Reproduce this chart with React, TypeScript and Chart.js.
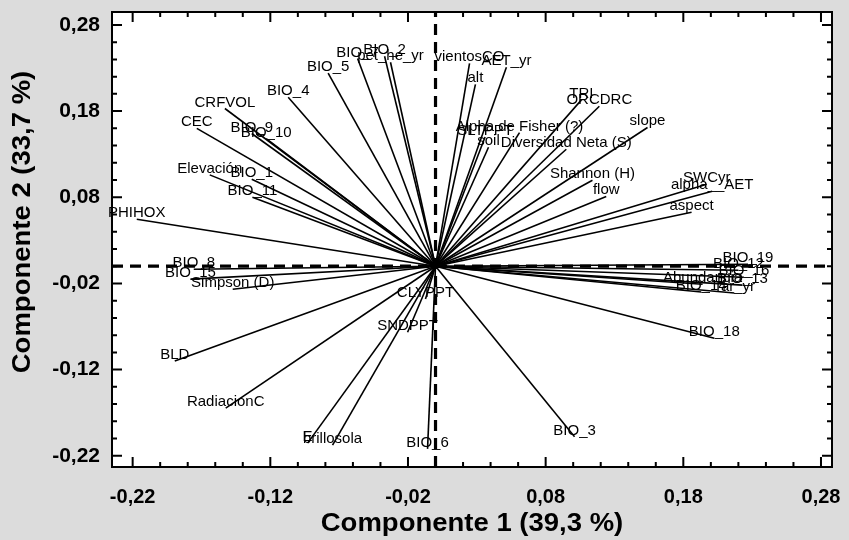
import React, { useEffect, useRef } from "react";
import { Chart, registerables } from "chart.js";

Chart.register(...registerables);

const vectorNames = [
  "PHIHOX", "Elevación", "BIO_1", "BIO_11", "CEC", "CRFVOL", "BIO_9", "BIO_10",
  "BIO_4", "BIO_5", "BIO_7", "BIO_2", "pet_he_yr", "vientosCO", "AET_yr", "alt",
  "TRI", "ORCDRC", "slope", "Alpha de Fisher (?)", "SLTPPT", "soil",
  "Diversidad Neta (S)", "Shannon (H)", "flow", "SWCyr", "alpha__AET", "aspect",
  "BIO_19", "BIO_12", "BIO_16", "BIO_13", "Abundancia", "BIO_14", "Tar_yr",
  "BIO_18", "BIO_3", "BIO_6", "brillosola", "E", "RadiacionC", "BLD", "SNDPPT",
  "CLYPPT", "BIO_8", "BIO_15", "Simpson (D)",
];
const vectorX = [
  -0.217, -0.164, -0.1335, -0.133, -0.1734, -0.153, -0.1335, -0.123,
  -0.107, -0.078, -0.0566, -0.037, -0.0327, 0.0247, 0.0515, 0.029,
  0.106, 0.119, 0.154, 0.061, 0.036, 0.0385,
  0.095, 0.114, 0.124, 0.197, 0.201, 0.186,
  0.227, 0.22, 0.224, 0.223, 0.194, 0.193, 0.217,
  0.2025, 0.101, -0.0058, -0.0748, -0.0929, -0.1524, -0.1894, -0.0203,
  -0.0073, -0.1756, -0.178, -0.1473,
];
const vectorY = [
  0.0545, 0.106, 0.101, 0.08, 0.16, 0.183, 0.154, 0.148,
  0.196, 0.224, 0.241, 0.2436, 0.2367, 0.2355, 0.231, 0.211,
  0.193, 0.1856, 0.161, 0.155, 0.15, 0.138,
  0.1357, 0.0998, 0.081, 0.095, 0.087, 0.0626,
  0.0023, -0.0046, -0.0128, -0.022, -0.021, -0.03, -0.031,
  -0.0835, -0.198, -0.212, -0.2077, -0.2053, -0.1647, -0.11, -0.0766,
  -0.038, -0.0035, -0.015, -0.0267,
];

const majorTicks = [-0.22, -0.12, -0.02, 0.08, 0.18, 0.28];
const minorTicks = [
  -0.2, -0.18, -0.16, -0.14, -0.1, -0.08, -0.06, -0.04, 0.0, 0.02, 0.04, 0.06,
  0.1, 0.12, 0.14, 0.16, 0.2, 0.22, 0.24, 0.26,
];
const tickLabels = ["-0,22", "-0,12", "-0,02", "0,08", "0,18", "0,28"];
const xRange = [-0.235, 0.288];
const yRange = [-0.233, 0.295];
const xTitle = "Componente 1 (39,3 %)";
const yTitle = "Componente 2 (33,7 %)";

const FONT = "'Liberation Sans', Arial, sans-serif";

export default function App() {
  const ref = useRef<HTMLCanvasElement | null>(null);

  useEffect(() => {
    document.body.style.margin = "0";
    const canvas = ref.current;
    if (!canvas) return;

    const vectorSets = vectorNames.map((name, i) => ({
      label: name,
      data: [
        { x: 0, y: 0 },
        { x: vectorX[i], y: vectorY[i] },
      ],
      showLine: true,
      borderColor: "#000",
      borderWidth: 1.6,
      pointRadius: 0,
      fill: false,
    }));

    const dashSets = [
      {
        label: "vdash",
        data: [
          { x: 0, y: yRange[0] },
          { x: 0, y: yRange[1] },
        ],
        showLine: true,
        borderColor: "#000",
        borderWidth: 3.2,
        borderDash: [11, 7],
        pointRadius: 0,
      },
      {
        label: "hdash",
        data: [
          { x: xRange[0], y: 0 },
          { x: xRange[1], y: 0 },
        ],
        showLine: true,
        borderColor: "#000",
        borderWidth: 3.2,
        borderDash: [11, 7],
        pointRadius: 0,
      },
    ];

    const decor = {
      id: "decor",
      beforeDraw(chart: any) {
        const { ctx, chartArea: a } = chart;
        ctx.save();
        ctx.fillStyle = "#dcdcdc";
        ctx.fillRect(0, 0, chart.width, chart.height);
        ctx.fillStyle = "#ffffff";
        ctx.fillRect(a.left, a.top, a.right - a.left, a.bottom - a.top);
        ctx.restore();
      },
      afterDatasetsDraw(chart: any) {
        const { ctx, chartArea: a, scales } = chart;
        const xs = scales.x;
        const ys = scales.y;
        ctx.save();
        // vector labels
        ctx.fillStyle = "#000";
        ctx.font = `15px ${FONT}`;
        ctx.textAlign = "center";
        ctx.textBaseline = "alphabetic";
        vectorNames.forEach((name, i) => {
          const px = xs.getPixelForValue(vectorX[i]);
          const py = ys.getPixelForValue(vectorY[i]);
          ctx.fillText(name, px, py - 2);
        });
        // border
        ctx.strokeStyle = "#000";
        ctx.lineWidth = 2;
        ctx.strokeRect(a.left, a.top, a.right - a.left, a.bottom - a.top);
        // ticks inward on four sides
        const drawX = (v: number, len: number) => {
          const p = xs.getPixelForValue(v);
          ctx.beginPath();
          ctx.moveTo(p, a.bottom);
          ctx.lineTo(p, a.bottom - len);
          ctx.moveTo(p, a.top);
          ctx.lineTo(p, a.top + len);
          ctx.stroke();
        };
        const drawY = (v: number, len: number) => {
          const p = ys.getPixelForValue(v);
          ctx.beginPath();
          ctx.moveTo(a.left, p);
          ctx.lineTo(a.left + len, p);
          ctx.moveTo(a.right, p);
          ctx.lineTo(a.right - len, p);
          ctx.stroke();
        };
        ctx.lineWidth = 2;
        majorTicks.forEach((v) => { drawX(v, 10); drawY(v, 10); });
        minorTicks.forEach((v) => { drawX(v, 5); drawY(v, 5); });
        // tick labels
        ctx.font = `bold 21px ${FONT}`;
        ctx.textBaseline = "middle";
        ctx.textAlign = "right";
        majorTicks.forEach((v, i) => {
          ctx.fillText(tickLabels[i], a.left - 12, ys.getPixelForValue(v));
        });
        ctx.font = `bold 20px ${FONT}`;
        ctx.textAlign = "center";
        majorTicks.forEach((v, i) => {
          ctx.fillText(tickLabels[i], xs.getPixelForValue(v), 497);
        });
        // titles
        ctx.font = `bold 25px ${FONT}`;
        ctx.textAlign = "center";
        ctx.textBaseline = "middle";
        ctx.save();
        ctx.translate((a.left + a.right) / 2, 524);
        ctx.scale(1.1, 1);
        ctx.fillText(xTitle, 0, 0);
        ctx.restore();
        ctx.translate(23, 222);
        ctx.rotate(-Math.PI / 2);
        ctx.scale(1.1, 1);
        ctx.fillText(yTitle, 0, 0);
        ctx.restore();
      },
    };

    const chart = new Chart(canvas, {
      type: "scatter",
      data: { datasets: [...vectorSets, ...dashSets] as any },
      options: {
        animation: false,
        responsive: false,
        maintainAspectRatio: false,
        layout: { padding: { left: 0, top: 12, right: 17, bottom: 0 } },
        plugins: {
          legend: { display: false },
          tooltip: { enabled: false },
        },
        scales: {
          x: {
            type: "linear",
            min: xRange[0],
            max: xRange[1],
            afterFit: (s: any) => {
              s.height = 73;
            },
            grid: { display: false, drawTicks: false },
            border: { display: false },
            ticks: { display: false },
          },
          y: {
            type: "linear",
            min: yRange[0],
            max: yRange[1],
            afterFit: (s: any) => {
              s.width = 112;
            },
            grid: { display: false, drawTicks: false },
            border: { display: false },
            ticks: { display: false },
          },
        },
      },
      plugins: [decor],
    });

    return () => chart.destroy();
  }, []);

  return (
    <div style={{ width: 849, height: 540, background: "#dcdcdc" }}>
      <canvas ref={ref} width={849} height={540} style={{ display: "block" }} />
    </div>
  );
}
